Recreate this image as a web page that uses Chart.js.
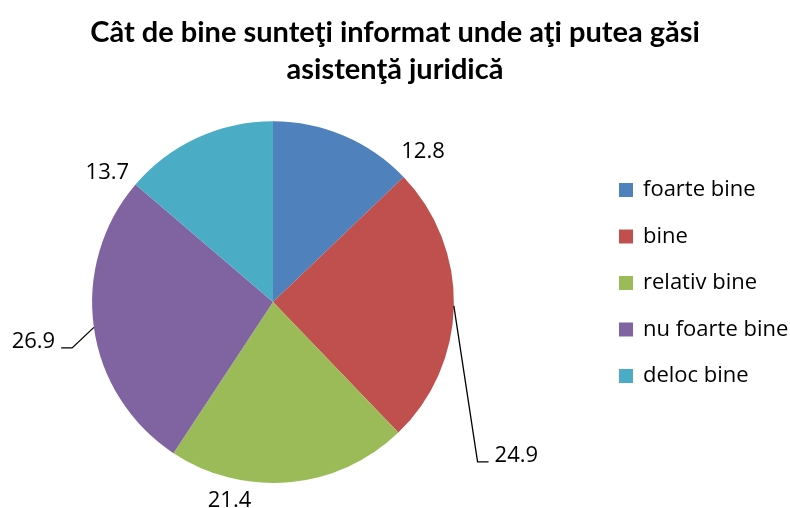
<!DOCTYPE html>
<html>
<head>
<meta charset="utf-8">
<script src="https://cdn.jsdelivr.net/npm/chart.js@4"></script>
<style>
  html, body { margin: 0; padding: 0; background: #fff; }
  #wrap { width: 790px; height: 508px; }
</style>
</head>
<body>
<div id="wrap"><canvas id="pie-chart"></canvas></div>
<script>
var categories = ['foarte bine', 'bine', 'relativ bine', 'nu foarte bine', 'deloc bine'];
var values = [12.8, 24.9, 21.4, 26.9, 13.7];
var valueLabels = ['12.8', '24.9', '21.4', '26.9', '13.7'];
var colors = ['#4F81BD', '#C0504D', '#9BBB59', '#8064A2', '#4BACC6'];

// label placement relative to the outer middle of each slice
var labelOffsets = [[79, 15.5], [62.5, 150], [-60, 18], [-60.5, 14.5], [-90, 35]];
var hasLeader = [false, true, false, true, false];

// empty box on the right that keeps room for the legend
var spacerPlugin = {
	id: 'legendSpace',
	beforeInit: function(chart) {
		Chart.layouts.addBox(chart, {
			position: 'right',
			weight: 10,
			fullSize: false,
			options: {},
			update: function(maxWidth, maxHeight) {
				this.width = 244;
				this.height = maxHeight;
			},
			isHorizontal: function() { return false; },
			draw: function() {}
		});
	}
};

var labelsPlugin = {
	id: 'outsideLabels',
	afterDatasetsDraw: function(chart) {
		var ctx = chart.ctx;
		var meta = chart.getDatasetMeta(0);
		ctx.save();
		ctx.font = '22px "Open Sans"';
		ctx.fillStyle = '#000';
		ctx.textAlign = 'center';
		ctx.textBaseline = 'middle';
		meta.data.forEach(function(arc, i) {
			var p = arc.getProps(['x', 'y', 'startAngle', 'endAngle', 'outerRadius'], true);
			var mid = (p.startAngle + p.endAngle) / 2;
			var ox = p.x + Math.cos(mid) * p.outerRadius;
			var oy = p.y + Math.sin(mid) * p.outerRadius;
			var lx = ox + labelOffsets[i][0];
			var ly = oy + labelOffsets[i][1];
			ctx.fillText(valueLabels[i], lx, ly);
			if (hasLeader[i]) {
				var half = ctx.measureText(valueLabels[i]).width / 2;
				var side = lx > ox ? -1 : 1;
				var by = ly + 6;
				ctx.strokeStyle = '#000';
				ctx.lineWidth = 1.3;
				ctx.beginPath();
				ctx.moveTo(ox, oy);
				ctx.lineTo(lx + side * (half + 17), by);
				ctx.lineTo(lx + side * (half + 6), by);
				ctx.stroke();
			}
		});
		ctx.restore();
	}
};

var legendPlugin = {
	id: 'sideLegend',
	afterDraw: function(chart) {
		var ctx = chart.ctx;
		ctx.save();
		ctx.font = '22px "Open Sans"';
		ctx.textAlign = 'left';
		ctx.textBaseline = 'middle';
		for (var i = 0; i < categories.length; i++) {
			var y = 190 + i * 46.5;
			ctx.fillStyle = colors[i];
			ctx.fillRect(619, y - 7, 14, 14);
			ctx.fillStyle = '#000';
			ctx.fillText(categories[i], 643, y);
		}
		ctx.restore();
	}
};

var chart = new Chart(document.getElementById('pie-chart'), {
	type: 'pie',
	data: {
		labels: categories,
		datasets: [{
			data: values,
			backgroundColor: colors,
			borderWidth: 0
		}]
	},
	options: {
		responsive: true,
		maintainAspectRatio: false,
		animation: false,
		layout: { padding: { left: 0, right: 0, top: 0, bottom: 25 } },
		plugins: {
			legend: { display: false },
			tooltip: { enabled: false },
			title: {
				display: true,
				text: ['Cât de bine sunteţi informat unde aţi putea găsi', 'asistenţă juridică'],
				color: '#000',
				font: { family: 'Lato', size: 29, weight: 'bold', lineHeight: 1.28 },
				padding: { top: 14, bottom: 33 }
			}
		}
	},
	plugins: [spacerPlugin, labelsPlugin, legendPlugin]
});
</script>
</body>
</html>
